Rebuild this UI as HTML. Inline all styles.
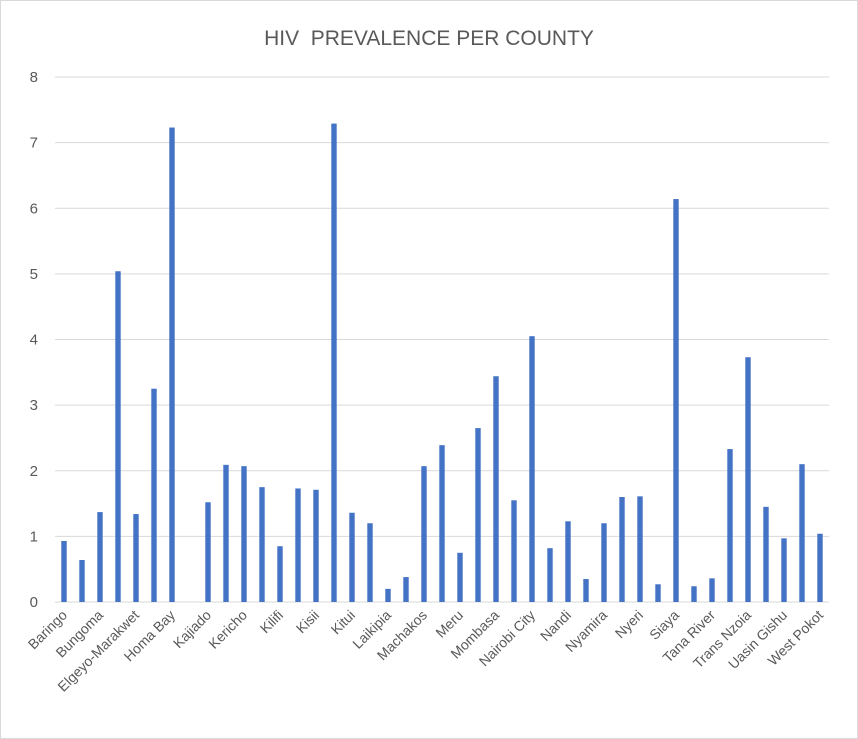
<!DOCTYPE html>
<html><head><meta charset="utf-8"><style>
body{margin:0;background:#fff}
svg{display:block;font-family:"Liberation Sans",sans-serif}
</style></head><body>
<svg id="c" width="858" height="739">
<rect x="0.5" y="0.5" width="857" height="738" fill="#fff" stroke="#d9d9d9"/>
<text x="429" y="45" text-anchor="middle" font-size="21" fill="#595959">HIV&#160; PREVALENCE PER COUNTY</text>
<g id="grid"></g><g id="bars"></g><g id="labels"></g>
</svg>
<script>
const categories=["Baringo","Bomet","Bungoma","Busia","Elgeyo-Marakwet","Embu","Homa Bay","Isiolo","Kajiado","Kakamega","Kericho","Kiambu","Kilifi","Kirinyaga","Kisii","Kisumu","Kitui","Kwale","Laikipia","Lamu","Machakos","Makueni","Meru","Migori","Mombasa","Murang'a","Nairobi City","Nakuru","Nandi","Narok","Nyamira","Nyandarua","Nyeri","Samburu","Siaya","Taita Taveta","Tana River","Tharaka-Nithi","Trans Nzoia","Turkana","Uasin Gishu","Vihiga","West Pokot"];
const values=[0.93,0.64,1.37,5.04,1.34,3.25,7.23,0,1.52,2.09,2.07,1.75,0.85,1.73,1.71,7.29,1.36,1.2,0.2,0.38,2.07,2.39,0.75,2.65,3.44,1.55,4.05,0.82,1.23,0.35,1.2,1.6,1.61,0.27,6.14,0.24,0.36,2.33,3.73,1.45,0.97,2.1,1.04];
const yTicks=[0,1,2,3,4,5,6,7,8];
const NS="http://www.w3.org/2000/svg";
const x0=55,x1=829,y0=602,y1=77,yMax=8;
const band=(x1-x0)/categories.length;
const y=v=>y0-(v/yMax)*(y0-y1);
const xc=i=>x0+band*(i+0.5);
const grid=document.getElementById('grid'),bars=document.getElementById('bars'),labels=document.getElementById('labels');
function mk(tag,a){const e=document.createElementNS(NS,tag);for(const k in a)e.setAttribute(k,a[k]);return e;}
yTicks.forEach(t=>{
  const l=mk('line',{x1:x0,x2:x1,y1:y(t),y2:y(t),stroke:'#d9d9d9','stroke-width':1});
  
  
  grid.appendChild(l);
  const tx=mk('text',{x:38,y:y(t)+5,'text-anchor':'end','font-size':15,fill:'#595959'});
  tx.textContent=t;
  
  
  grid.appendChild(tx);
});
values.forEach((v,i)=>{
  const r=mk('rect',{x:xc(i)-2.7,y:y(v),width:5.4,height:y0-y(v),fill:'#4472c4'});
  
  
  bars.appendChild(r);
});
categories.forEach((c,i)=>{
  if(i%2)return;
  const cx=xc(i)+4,cy=616;
  const t=mk('text',{x:cx,y:cy,'text-anchor':'end','font-size':14,fill:'#595959',transform:`rotate(-45 ${cx} ${cy})`});
  t.textContent=c;
  
  
  labels.appendChild(t);
});
</script>
</body></html>
